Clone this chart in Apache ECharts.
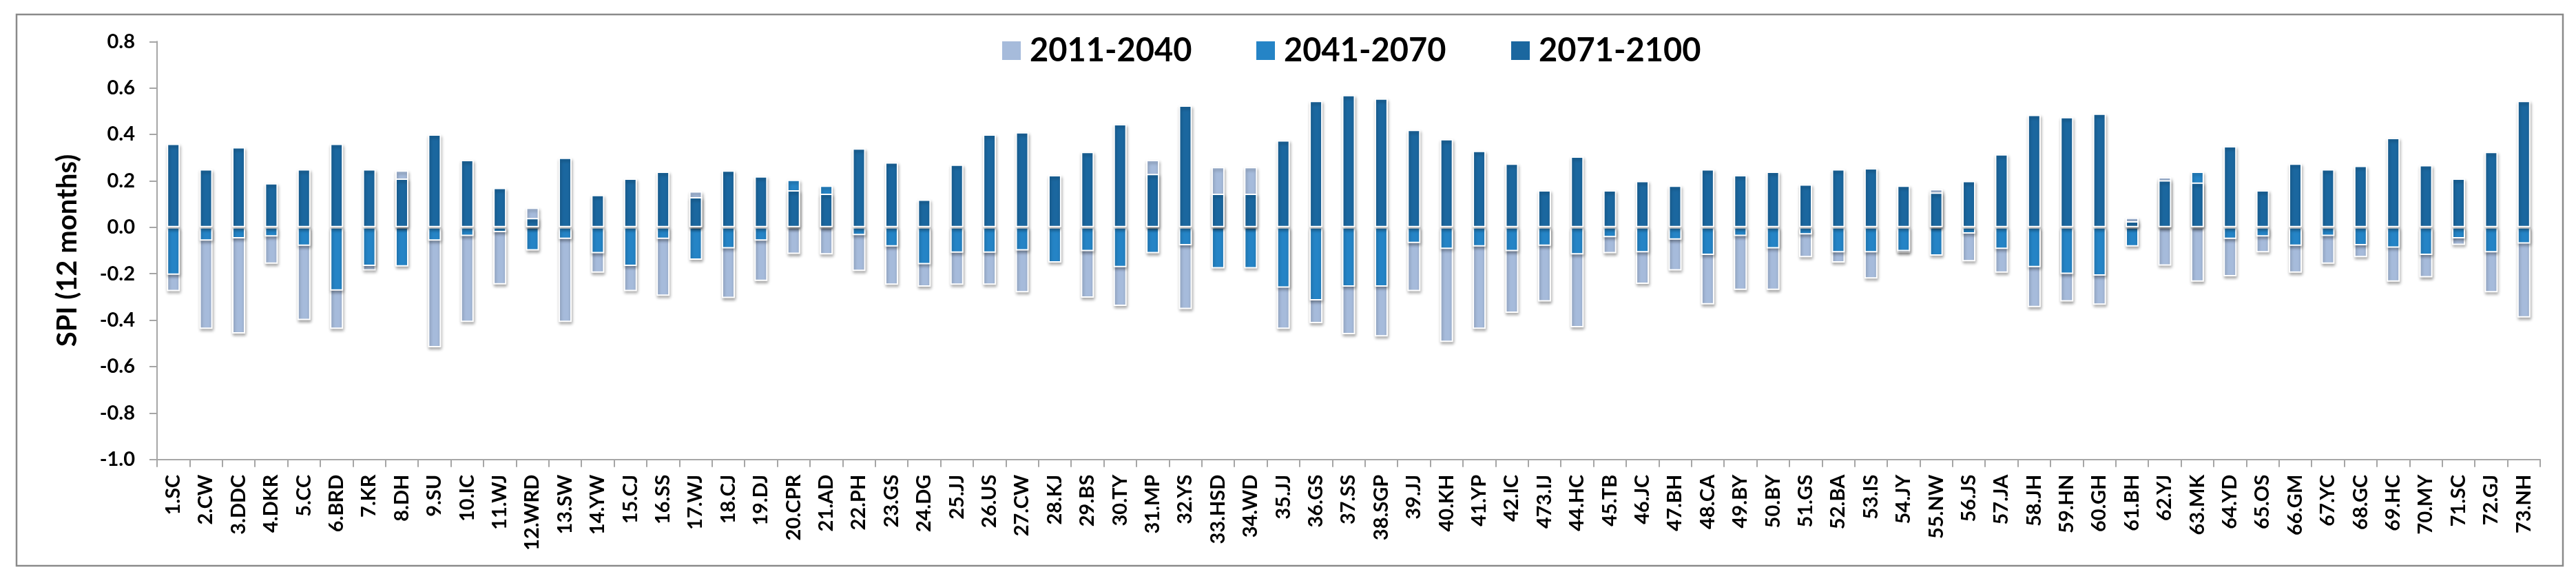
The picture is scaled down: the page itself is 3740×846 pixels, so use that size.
<!DOCTYPE html>
<html><head><meta charset="utf-8">
<script src="https://cdn.jsdelivr.net/npm/echarts@6/dist/echarts.min.js"></script>
<style>html,body{margin:0;padding:0;background:#fff}#c{width:3740px;height:846px}</style>
</head><body><div id="c"></div>
<script>
const categories = ['1.SC','2.CW','3.DDC','4.DKR','5.CC','6.BRD','7.KR','8.DH','9.SU','10.IC',
'11.WJ','12.WRD','13.SW','14.YW','15.CJ','16.SS','17.WJ','18.CJ','19.DJ','20.CPR',
'21.AD','22.PH','23.GS','24.DG','25.JJ','26.US','27.CW','28.KJ','29.BS','30.TY',
'31.MP','32.YS','33.HSD','34.WD','35.JJ','36.GS','37.SS','38.SGP','39.JJ','40.KH',
'41.YP','42.IC','473.IJ','44.HC','45.TB','46.JC','47.BH','48.CA','49.BY','50.BY',
'51.GS','52.BA','53.IS','54.JY','55.NW','56.JS','57.JA','58.JH','59.HN','60.GH',
'61.BH','62.YJ','63.MK','64.YD','65.OS','66.GM','67.YC','68.GC','69.HC','70.MY',
'71.SC','72.GJ','73.NH'];

const seriesNames = ['2011-2040','2041-2070','2071-2100'];

// positive (wet) values per period; null = hidden behind a taller bar
const pos2071 = [0.36,0.25,0.345,0.19,0.25,0.36,0.25,0.21,0.40,0.29,
0.17,0.04,0.30,0.14,0.21,0.24,0.13,0.245,0.22,0.16,
0.145,0.34,0.28,0.12,0.27,0.40,0.41,0.225,0.325,0.445,
0.23,0.525,0.145,0.145,0.375,0.545,0.57,0.555,0.42,0.38,
0.33,0.275,0.16,0.305,0.16,0.20,0.18,0.25,0.225,0.24,
0.185,0.25,0.255,0.18,0.15,0.20,0.315,0.485,0.475,0.49,
0.026,0.203,0.193,0.35,0.16,0.275,0.25,0.265,0.385,0.268,
0.21,0.325,0.545];

const pos2011 = [null,null,null,null,null,null,null,0.245,null,null,
null,0.085,null,null,null,null,0.155,null,null,null,
null,null,null,null,null,null,null,null,null,null,
0.29,null,0.26,0.26,null,null,null,null,null,null,
null,null,null,null,null,null,null,null,null,null,
null,null,null,null,0.165,null,null,null,null,null,
0.042,0.216,null,null,null,null,null,null,null,null,
null,null,null];

const pos2041 = [null,null,null,null,null,null,null,null,null,null,
null,null,null,null,null,null,null,null,null,0.205,
0.18,null,null,null,null,null,null,null,null,null,
null,null,null,null,null,null,null,null,null,null,
null,null,null,null,null,null,null,null,null,null,
null,null,null,null,null,null,null,null,null,null,
null,null,0.24,null,null,null,null,null,null,null,
null,null,null];

// negative (dry) values per period
const neg2041 = [-0.205,-0.058,-0.048,-0.04,-0.08,-0.273,-0.167,-0.169,-0.058,-0.038,
-0.021,-0.10,-0.05,-0.112,-0.167,-0.05,-0.14,-0.091,-0.058,null,
null,-0.034,-0.083,-0.159,-0.11,-0.11,-0.10,-0.152,-0.103,-0.172,
-0.112,-0.078,-0.177,-0.177,-0.26,-0.315,-0.256,-0.256,-0.068,-0.093,
-0.083,-0.103,-0.08,-0.117,-0.043,-0.108,-0.053,-0.119,-0.038,-0.091,
-0.031,-0.108,-0.108,-0.103,-0.122,-0.027,-0.093,-0.172,-0.201,-0.208,
-0.083,null,null,-0.05,-0.04,-0.08,-0.038,-0.078,-0.088,-0.119,
-0.048,-0.108,-0.07];

const neg2011 = [-0.275,-0.438,-0.458,-0.157,-0.40,-0.438,-0.186,null,-0.517,-0.408,
-0.246,null,-0.408,-0.196,-0.275,-0.295,null,-0.305,-0.231,-0.115,
-0.117,-0.188,-0.248,-0.256,-0.248,-0.248,-0.28,null,-0.303,-0.339,
null,-0.352,null,null,-0.438,-0.413,-0.461,-0.47,-0.275,-0.494,
-0.438,-0.369,-0.32,-0.431,-0.112,-0.244,-0.186,-0.332,-0.27,-0.27,
-0.129,-0.152,-0.221,-0.11,null,-0.147,-0.196,-0.344,-0.32,-0.334,
null,-0.165,-0.234,-0.211,-0.108,-0.196,-0.157,-0.129,-0.234,-0.216,
-0.076,-0.28,-0.389];

const FONT = 'Lato, "Open Sans", sans-serif';
const COLORS = ['#A6BBDB', '#2584C6', '#1B679F'];
const LEGEND_LEFT = [1455, 1824, 2194];

function bar(name, data, color) {
  return {
    name: name, type: 'bar', data: data, barWidth: 19, barGap: '-100%',
    itemStyle: { color: color, borderColor: '#ffffff', borderWidth: 2,
      shadowColor: 'rgba(0,0,0,0.3)', shadowBlur: 4, shadowOffsetX: 1, shadowOffsetY: 3 },
    emphasis: { disabled: true }
  };
}

function legendAt(i) {
  return {
    data: [seriesNames[i]],
    top: 50, left: LEGEND_LEFT[i], padding: 0,
    itemWidth: 27, itemHeight: 27, icon: 'rect',
    itemStyle: { borderWidth: 0, shadowBlur: 0, shadowOffsetX: 0, shadowOffsetY: 0 },
    textStyle: { fontFamily: FONT, fontWeight: 'bold', fontSize: 47, color: '#000', padding: [0, 0, 0, 8] }
  };
}

const chart = echarts.init(document.getElementById('c'), null, { renderer: 'canvas' });
chart.setOption({
  animation: false,
  backgroundColor: '#ffffff',
  graphic: [{
    type: 'rect', z: -10,
    shape: { x: 24, y: 21, width: 3697, height: 800 },
    style: { fill: 'none', stroke: '#8a8a8a', lineWidth: 2.5 }
  }],
  legend: [legendAt(0), legendAt(1), legendAt(2)],
  grid: { left: 228, right: 52, top: 60.3, bottom: 179.3, containLabel: false, outerBoundsMode: 'none' },
  xAxis: {
    type: 'category', data: categories,
    axisLine: { onZero: false, lineStyle: { color: '#A6A6A6', width: 2 } },
    axisTick: { show: true, length: 11, interval: 0, lineStyle: { color: '#A6A6A6', width: 2 } },
    axisLabel: { interval: 0, rotate: 90, margin: 22, fontFamily: FONT, fontWeight: 'bold', fontSize: 29, color: '#000' },
    splitLine: { show: false }
  },
  yAxis: {
    type: 'value', min: -1, max: 0.8, interval: 0.2,
    name: 'SPI (12 months)', nameLocation: 'middle', nameGap: 110,
    nameTextStyle: { fontFamily: FONT, fontWeight: 'bold', fontSize: 40, color: '#000' },
    axisLine: { show: true, lineStyle: { color: '#A6A6A6', width: 2 } },
    axisTick: { show: true, length: 11, lineStyle: { color: '#A6A6A6', width: 2 } },
    axisLabel: { margin: 32, fontFamily: FONT, fontWeight: 'bold', fontSize: 29, color: '#000',
      formatter: function (v) { return v.toFixed(1); } },
    splitLine: { show: false }
  },
  series: [
    bar(seriesNames[0], neg2011, COLORS[0]),
    bar(seriesNames[1], neg2041, COLORS[1]),
    bar(seriesNames[0], pos2011, COLORS[0]),
    bar(seriesNames[1], pos2041, COLORS[1]),
    bar(seriesNames[2], pos2071, COLORS[2])
  ]
});
</script></body></html>
